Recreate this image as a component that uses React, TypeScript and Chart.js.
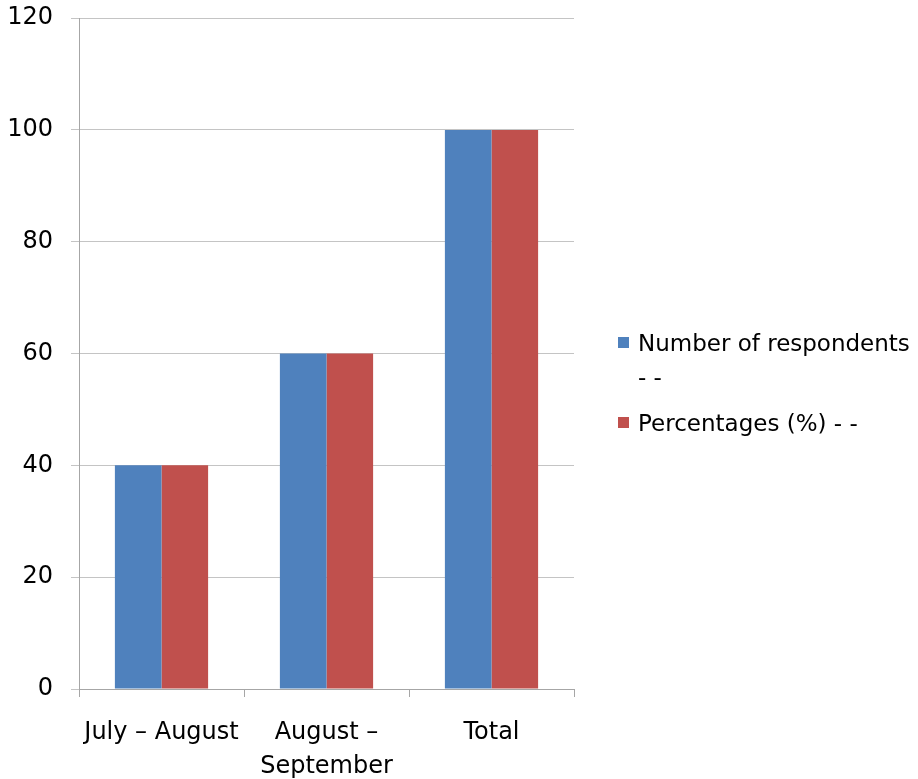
import React, { useEffect, useRef } from "react";
import { Chart, registerables } from "chart.js";

Chart.register(...registerables);

// Survey periods shown along the category axis
const categories: (string | string[])[] = ["July – August", ["August –", "September"], "Total"];
// Series values per period
const respondents = [40, 60, 100];
const percentages = [40, 60, 100];
const seriesNames = ["Number of respondents - -", "Percentages (%) - -"];
const seriesColors = ["#4F81BD", "#C0504D"];
// Value axis range
const yMin = 0;
const yMax = 120;
const yStep = 20;

const FONT = '"DejaVu Sans", sans-serif';
const TICK_SIZE = 24;
const LEGEND_SIZE = 23;

export default function App() {
  const canvasRef = useRef<HTMLCanvasElement | null>(null);

  useEffect(() => {
    if (!canvasRef.current) return;
    const chart = new Chart(canvasRef.current, {
      type: "bar",
      data: {
        labels: categories,
        datasets: [
          {
            label: seriesNames[0],
            data: respondents,
            backgroundColor: seriesColors[0],
            borderWidth: 0,
            categoryPercentage: 0.565,
            barPercentage: 1,
          },
          {
            label: seriesNames[1],
            data: percentages,
            backgroundColor: seriesColors[1],
            borderWidth: 0,
            categoryPercentage: 0.565,
            barPercentage: 1,
          },
        ],
      },
      options: {
        responsive: false,
        animation: false,
        layout: { padding: { left: 0, top: 18, right: 344, bottom: 0 } },
        plugins: {
          legend: { display: false },
          tooltip: { enabled: false },
        },
        scales: {
          x: {
            grid: {
              display: true,
              drawOnChartArea: false,
              offset: true,
              tickLength: 8,
              color: "#a6a6a6",
            },
            border: { color: "#a6a6a6" },
            ticks: {
              color: "#000",
              padding: 19,
              maxRotation: 0,
              autoSkip: false,
              font: { family: FONT, size: TICK_SIZE, lineHeight: 1.42 },
            },
            afterFit: (scale: any) => {
              scale.height = 90;
            },
          },
          y: {
            min: yMin,
            max: yMax,
            grid: { color: "#c4c4c4", tickLength: 8 },
            border: { color: "#a6a6a6" },
            ticks: {
              stepSize: yStep,
              color: "#000",
              padding: 18,
              font: { family: FONT, size: TICK_SIZE, lineHeight: 0.01 },
            },
            afterFit: (scale: any) => {
              scale.width = 79;
            },
          },
        },
      },
    });
    return () => chart.destroy();
  }, []);

  return (
    <div style={{ position: "fixed", left: 0, top: 0, width: 918, height: 779, background: "#fff" }}>
      <canvas ref={canvasRef} width={918} height={779} style={{ display: "block" }} />
      <div
        style={{
          position: "absolute",
          left: 618,
          top: 326,
          width: 300,
          fontFamily: FONT,
          fontSize: LEGEND_SIZE,
          color: "#000",
          lineHeight: "34px",
        }}
      >
        {seriesNames.map((name, i) => (
          <div key={name} style={{ display: "flex", alignItems: "flex-start", marginBottom: 12 }}>
            <span
              style={{
                display: "inline-block",
                width: 11,
                height: 11,
                marginTop: 11,
                marginRight: 9,
                background: seriesColors[i],
                flex: "none",
              }}
            />
            <span style={{ width: 278 }}>{name}</span>
          </div>
        ))}
      </div>
    </div>
  );
}
